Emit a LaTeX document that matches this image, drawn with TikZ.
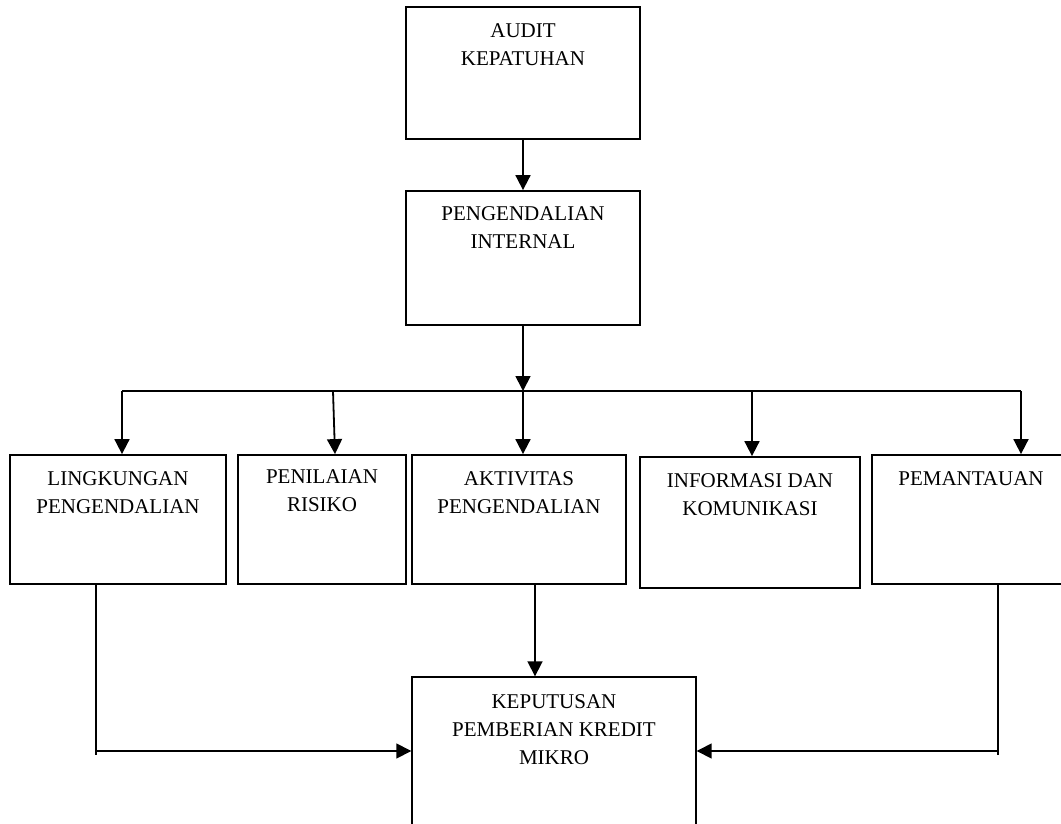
\documentclass[tikz,border=0pt]{standalone}
\usepackage{fontspec}
\setmainfont{Liberation Serif}
\usetikzlibrary{positioning,arrows.meta}

\begin{document}
\begin{tikzpicture}[x=1pt,y=-1pt]
  \useasboundingbox (0,0) rectangle (1061,824);
  \clip (0,0) rectangle (1061,824);
  \tikzset{BoxStyle/.style 2 args = {draw,
                                 line width     = 1.8pt,
                                 inner sep      = 0pt,
                                 minimum width  = #1,
                                 minimum height = #2}}

  \tikzset{TextStyle/.style = {align        = center,
                                 inner sep    = 0pt,
                                 font         = \fontsize{21}{28}\selectfont}}

  \tikzset{ArrowStyle/.style = {line width = 1.8pt,
                                 -{Triangle[length=15pt,width=15pt]}}}

  \tikzset{LineStyle/.style = {line width = 1.5pt}}

     \node[BoxStyle={234pt}{132pt}] (Audit) at (523,73) {};
     \node[BoxStyle={234pt}{134pt}] (Internal) at (523,258) {};
     \node[BoxStyle={216pt}{129pt}] (Ling) at (118,519.5) {};
     \node[BoxStyle={168pt}{129pt}] (Risk) at (322,519.5) {};
     \node[BoxStyle={214pt}{129pt}] (Akt) at (519,519.5) {};
     \node[BoxStyle={220pt}{131pt}] (Info) at (750,522.5) {};
     \node[BoxStyle={198pt}{129pt}] (Pant) at (971,519.5) {};
     \node[BoxStyle={284pt}{172pt},line width=1.4pt] (Kep) at (554,763) {};

     \node[TextStyle,below=17pt of Audit.north] (T_Audit) {AUDIT\\KEPATUHAN};
     \node[TextStyle,below=16pt of Internal.north] (T_Internal) {PENGENDALIAN\\INTERNAL};
     \node[TextStyle,below=17.5pt of Ling.north] (T_Ling) {LINGKUNGAN\\PENGENDALIAN};
     \node[TextStyle,below=15.5pt of Risk.north] (T_Risk) {PENILAIAN\\RISIKO};
     \node[TextStyle,below=17.5pt of Akt.north] (T_Akt) {AKTIVITAS\\PENGENDALIAN};
     \node[TextStyle,below=17pt of Info.north] (T_Info) {INFORMASI DAN\\KOMUNIKASI};
     \node[TextStyle,below=17.5pt of Pant.north] (T_Pant) {PEMANTAUAN};
     \node[TextStyle,below=18.5pt of Kep.north] (T_Kep) {KEPUTUSAN\\PEMBERIAN KREDIT\\MIKRO};

     % branch line
     \coordinate (B_1) at (122,391);
     \coordinate (B_2) at (333,391);
     \coordinate (B_3) at (523,391);
     \coordinate (B_4) at (752,391);
     \coordinate (B_5) at (1021,391);
     \coordinate (D_1) at (96,751);
     \coordinate (D_2) at (998,751);
     \coordinate (D_3) at (535,584);

     \draw[ArrowStyle](Audit) -- (Internal);
     \draw[LineStyle](B_1) -- (B_5);
     \draw[ArrowStyle](Internal.south) -- (Internal.south |- B_3);
     \draw[ArrowStyle](B_1) -- (B_1 |- Ling.north);
     \draw[ArrowStyle](B_2) -- ([xshift=2pt]B_2 |- Risk.north);
     \draw[ArrowStyle](B_3) -- (B_3 |- Akt.north);
     \draw[ArrowStyle](B_4) -- (B_4 |- Info.north);
     \draw[ArrowStyle](B_5) -- (B_5 |- Pant.north);

     \draw[ArrowStyle](D_3) -- (D_3 |- Kep.north);
     \draw[LineStyle](Ling.south -| D_1) -- ([yshift=-4pt]D_1);
     \draw[ArrowStyle,line width=1.5pt](D_1) -- (D_1 -| Kep.west);
     \draw[LineStyle](Pant.south -| D_2) -- ([yshift=-4pt]D_2);
     \draw[ArrowStyle,line width=1.5pt](D_2) -- (D_2 -| Kep.east);
     %\draw[LineStyle](Akt) -- (Kep);

\end{tikzpicture}
\end{document}
